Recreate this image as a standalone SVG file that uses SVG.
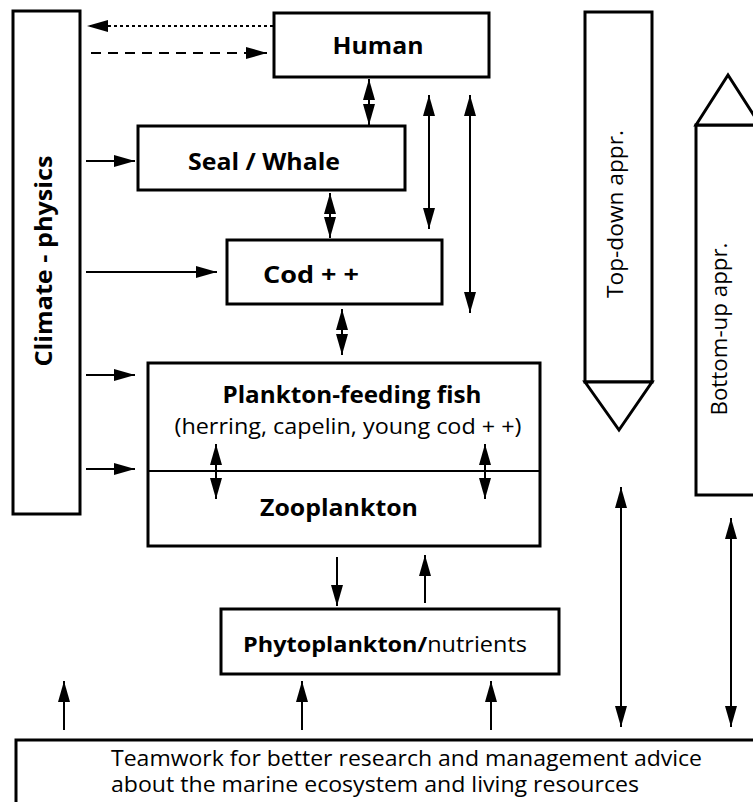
<svg xmlns="http://www.w3.org/2000/svg" width="753" height="802" viewBox="0 0 753 802">
<style>
.box{fill:#fff;stroke:#000;stroke-width:3}
.ln{fill:none;stroke:#000;stroke-width:2}
.b{font-family:"Open Sans",Lato,"DejaVu Sans",sans-serif;font-weight:bold;font-size:23px;fill:#000}
.n{font-family:"Open Sans",Lato,"DejaVu Sans",sans-serif;font-weight:normal;font-size:21px;fill:#000}
</style>
<defs>
<marker id="ah" markerUnits="userSpaceOnUse" markerWidth="21" markerHeight="12" refX="21" refY="6" orient="auto-start-reverse" viewBox="0 0 21 12">
<path d="M0,0 L21,6 L0,12 z" fill="#000"/>
</marker>
</defs>
<rect width="753" height="802" fill="#fff"/>
<g id="climate">
<rect class="box" x="13" y="11" width="67" height="503"/>
<text class="b" transform="translate(52,261) rotate(-90)" text-anchor="middle" textLength="211" lengthAdjust="spacingAndGlyphs">Climate - physics</text>
</g>
<g id="human">
<rect class="box" x="274" y="13" width="215" height="64"/>
<text class="b" x="378" y="54" text-anchor="middle" textLength="91" lengthAdjust="spacingAndGlyphs">Human</text>
</g>
<g id="seal">
<rect class="box" x="138" y="126" width="267" height="64"/>
<text class="b" x="264" y="170" text-anchor="middle" textLength="152" lengthAdjust="spacingAndGlyphs">Seal / Whale</text>
</g>
<g id="cod">
<rect class="box" x="227" y="240" width="215" height="64"/>
<text class="b" x="311" y="283" text-anchor="middle" textLength="96" lengthAdjust="spacingAndGlyphs">Cod + +</text>
</g>
<g id="plankton">
<rect class="box" x="148" y="363" width="392" height="183"/>
<line x1="148" y1="471" x2="540" y2="471" stroke="#000" stroke-width="2"/>
<text class="b" x="352" y="403" text-anchor="middle" textLength="259" lengthAdjust="spacingAndGlyphs">Plankton-feeding fish</text>
<text class="n" x="348" y="434" text-anchor="middle" textLength="347" lengthAdjust="spacingAndGlyphs">(herring, capelin, young cod + +)</text>
<text class="b" x="339" y="516" text-anchor="middle" textLength="158" lengthAdjust="spacingAndGlyphs">Zooplankton</text>
</g>
<g id="phyto">
<rect class="box" x="221" y="609" width="338" height="65"/>
<text class="n" x="243" y="652" textLength="284" lengthAdjust="spacingAndGlyphs"><tspan font-weight="bold">Phytoplankton/</tspan>nutrients</text>
</g>
<g id="topdown">
<rect class="box" x="585" y="12" width="67" height="370"/>
<polygon class="box" points="585,382 619,430 652,382"/>
<text class="n" font-size="22" transform="translate(623,214) rotate(-90)" text-anchor="middle" textLength="168" lengthAdjust="spacingAndGlyphs">Top-down appr.</text>
</g>
<g id="bottomup">
<rect class="box" x="696" y="125" width="64" height="370"/>
<polygon class="box" points="696,125 728,75 760,125"/>
<text class="n" font-size="22" transform="translate(727,329) rotate(-90)" text-anchor="middle" textLength="173" lengthAdjust="spacingAndGlyphs">Bottom-up appr.</text>
</g>
<g id="teamwork">
<rect class="box" x="16" y="740" width="760" height="80"/>
<text class="n" font-size="18.5" x="111" y="766" textLength="591" lengthAdjust="spacingAndGlyphs">Teamwork for better research and management advice</text>
<text class="n" font-size="18.5" x="111" y="792" textLength="528" lengthAdjust="spacingAndGlyphs">about the marine ecosystem and living resources</text>
</g>
<g id="connectors">
<line class="ln" x1="273" y1="26" x2="87" y2="26" stroke-dasharray="3,3" marker-end="url(#ah)"/>
<line class="ln" x1="91" y1="53" x2="267" y2="53" stroke-dasharray="10,7" marker-end="url(#ah)"/>
<line class="ln" x1="369" y1="79" x2="369" y2="125" marker-start="url(#ah)" marker-end="url(#ah)"/>
<line class="ln" x1="330" y1="193" x2="330" y2="238" marker-start="url(#ah)" marker-end="url(#ah)"/>
<line class="ln" x1="342" y1="309" x2="342" y2="355" marker-start="url(#ah)" marker-end="url(#ah)"/>
<line class="ln" x1="429" y1="95" x2="429" y2="229" marker-start="url(#ah)" marker-end="url(#ah)"/>
<line class="ln" x1="470" y1="95" x2="470" y2="313" marker-start="url(#ah)" marker-end="url(#ah)"/>
<line class="ln" x1="86" y1="161" x2="135" y2="161" marker-end="url(#ah)"/>
<line class="ln" x1="86" y1="272" x2="217" y2="272" marker-end="url(#ah)"/>
<line class="ln" x1="86" y1="375" x2="135" y2="375" marker-end="url(#ah)"/>
<line class="ln" x1="86" y1="469" x2="135" y2="469" marker-end="url(#ah)"/>
<line class="ln" x1="216" y1="444" x2="216" y2="499" marker-start="url(#ah)" marker-end="url(#ah)"/>
<line class="ln" x1="485" y1="444" x2="485" y2="499" marker-start="url(#ah)" marker-end="url(#ah)"/>
<line class="ln" x1="337" y1="557" x2="337" y2="606" marker-end="url(#ah)"/>
<line class="ln" x1="425" y1="603" x2="425" y2="555" marker-end="url(#ah)"/>
<line class="ln" x1="64" y1="730" x2="64" y2="681" marker-end="url(#ah)"/>
<line class="ln" x1="302" y1="730" x2="302" y2="681" marker-end="url(#ah)"/>
<line class="ln" x1="491" y1="730" x2="491" y2="681" marker-end="url(#ah)"/>
<line class="ln" x1="621" y1="487" x2="621" y2="727" marker-start="url(#ah)" marker-end="url(#ah)"/>
<line class="ln" x1="731" y1="518" x2="731" y2="727" marker-start="url(#ah)" marker-end="url(#ah)"/>
</g>
</svg>
